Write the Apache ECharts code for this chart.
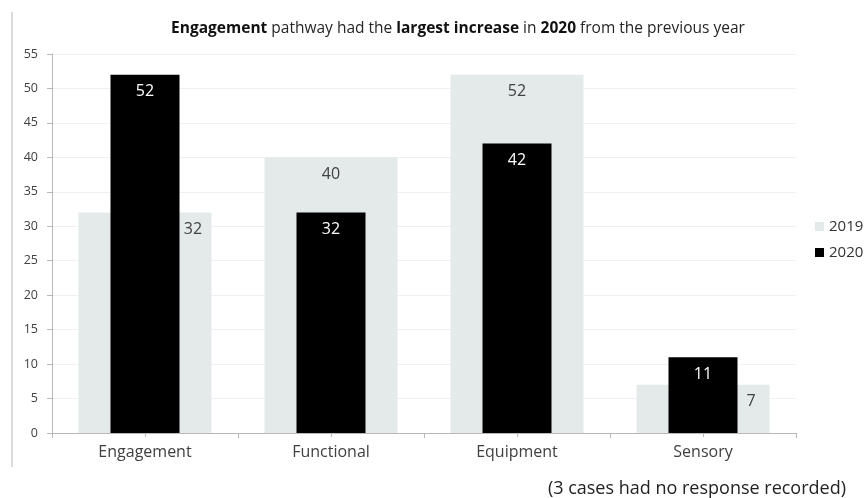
<!DOCTYPE html>
<html><head><meta charset="utf-8">
<script src="https://cdn.jsdelivr.net/npm/echarts@6/dist/echarts.min.js"></script>
<style>html,body{margin:0;padding:0;background:#fff}#c{width:866px;height:498px}</style>
</head><body><div id="c"></div>
<script>
const categories = ['Engagement', 'Functional', 'Equipment', 'Sensory'];
const values2019 = [32, 40, 52, 7];
const values2020 = [52, 32, 42, 11];
const yTicks = [0, 5, 10, 15, 20, 25, 30, 35, 40, 45, 50, 55];
const seriesNames = ['2019', '2020'];

const FONT = '"Open Sans", "DejaVu Sans", sans-serif';
const chart = echarts.init(document.getElementById('c'));

// 2019 labels: shifted right where the 2020 bar covers the label
const data2019 = values2019.map((v, i) => {
  const covered = values2020[i] >= v;
  return {
    value: v,
    label: covered ? { offset: [48, 0] } : {}
  };
});

chart.setOption({
  animation: false,
  title: {
    text: '{b|Engagement} pathway had the {b|largest increase} in {b|2020} from the previous year',
    left: 453, top: 16, textAlign: 'center',
    textStyle: {
      fontFamily: FONT, fontSize: 15.5, fontWeight: 'normal', color: '#262626',
      rich: { b: { fontFamily: FONT, fontSize: 15.5, fontWeight: 'bold', color: '#111' } }
    }
  },
  legend: {
    orient: 'vertical', left: 810, top: 214, itemWidth: 9, itemHeight: 9, itemGap: 11,
    icon: 'rect',
    textStyle: { fontFamily: FONT, fontSize: 15, color: '#333' },
    data: seriesNames
  },
  grid: { left: 52, right: 70, top: 54, bottom: 65 },
  xAxis: [{
    type: 'category', data: categories,
    axisLine: { lineStyle: { color: '#b8b8b8' } },
    axisTick: { show: true, alignWithLabel: false, length: 5, lineStyle: { color: '#b8b8b8' } },
    axisLabel: { fontFamily: FONT, fontSize: 16, color: '#404040', margin: 11 }
  }, {
    type: 'category', data: categories, position: 'bottom',
    axisLine: { show: false },
    axisTick: { show: true, alignWithLabel: true, length: 4, lineStyle: { color: '#b8b8b8' } },
    axisLabel: { show: false }
  }],
  yAxis: {
    type: 'value', min: 0, max: 55, interval: 5,
    axisLine: { show: true, lineStyle: { color: '#b8b8b8' } },
    axisTick: { show: true, length: 5, lineStyle: { color: '#b8b8b8' } },
    axisLabel: { fontFamily: FONT, fontSize: 12.5, color: '#404040', margin: 14,
      formatter: v => yTicks.includes(v) ? String(v) : '' },
    splitLine: { lineStyle: { color: '#f0f0f0' } }
  },
  series: [{
    name: seriesNames[0], type: 'bar', xAxisIndex: 0, barWidth: 133,
    itemStyle: { color: '#e4e9e9' },
    label: { show: true, position: 'insideTop', distance: 9, fontFamily: FONT, fontSize: 16, color: '#404040' },
    data: data2019, z: 1
  }, {
    name: seriesNames[1], type: 'bar', xAxisIndex: 1, barWidth: 69,
    itemStyle: { color: '#000' },
    label: { show: true, position: 'insideTop', distance: 9, fontFamily: FONT, fontSize: 16, color: '#fff' },
    data: values2020, z: 2
  }],
  graphic: [{
    type: 'line', shape: { x1: 12, y1: 12, x2: 12, y2: 467 },
    style: { stroke: '#d0d0d0', lineWidth: 1.5 }
  }, {
    type: 'text', right: 20, top: 480,
    style: { text: '(3 cases had no response recorded)', fontFamily: FONT, fontSize: 18, fill: '#222' }
  }]
});
</script></body></html>
